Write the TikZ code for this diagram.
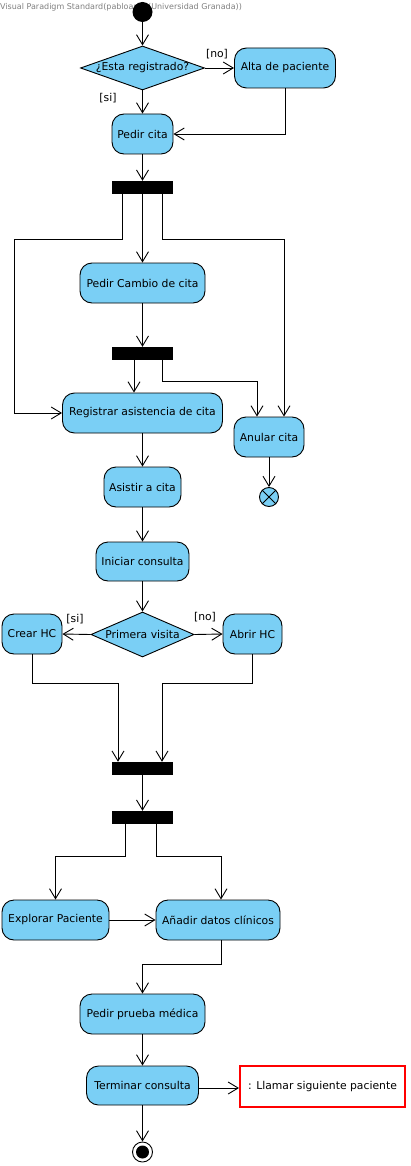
\documentclass[tikz,border=0pt]{standalone}
\usepackage{fontspec}
\setmainfont{DejaVu Sans}
\usetikzlibrary{arrows.meta,shapes.geometric}
\definecolor{actc}{RGB}{122,207,245}
\begin{document}
\begin{tikzpicture}[x=1pt,y=-1pt,
 every node/.style={font=\fontsize{10.8}{12}\selectfont},
 act/.style={draw, fill=actc, rounded corners=12pt, minimum height=40pt, inner sep=0pt, line width=0.9pt},
 dec/.style={draw, fill=actc, diamond, inner sep=0pt, aspect=2.8, line width=0.9pt},
 bar/.style={fill=black, minimum width=61pt, minimum height=13pt, inner sep=0pt},
 flow/.style={draw, line width=0.9pt, -{Straight Barb[length=10pt,width=12pt]}},
 lbl/.style={inner sep=0pt}]
\fill[white] (0,0) rectangle (410,1166);
\useasboundingbox (0,0) rectangle (410,1166);
\node[anchor=west, text=gray, font=\fontsize{8}{9}\selectfont, inner sep=0pt] (title) at (0,7) {Visual Paradigm Standard(pabloariza(Universidad Granada))};
\node[circle, fill=black, minimum size=20pt, inner sep=0pt] (start) at (142.5,12) {};
\node[dec, minimum width=124pt, minimum height=44pt] (reg) at (142.5,68) {¿Esta registrado?};
\node[act, minimum width=101pt] (alta) at (285,68) {Alta de paciente};
\node[act, minimum width=61pt] (pcita) at (142.5,134) {Pedir cita};
\node[bar] (f1) at (142.5,187.5) {};
\node[act, minimum width=125pt] (cambio) at (142.5,283) {Pedir Cambio de cita};
\node[bar] (f2) at (142.5,353.5) {};
\node[act, minimum width=160pt] (regas) at (142.5,413) {Registrar asistencia de cita};
\node[act, minimum width=70pt] (anular) at (269,437) {Anular cita};
\node[circle, draw, fill=actc, minimum size=19pt, inner sep=0pt, line width=0.9pt] (ff) at (269,497) {};
\draw[line width=0.9pt] (ff.north east) -- (ff.south west) (ff.north west) -- (ff.south east);
\node[act, minimum width=77pt] (asistir) at (142.5,487) {Asistir a cita};
\node[act, minimum width=93pt, minimum height=39pt] (iniciar) at (142.5,561.5) {Iniciar consulta};
\node[dec, minimum width=103pt, minimum height=45pt] (prim) at (142.5,634.5) {Primera visita};
\node[act, minimum width=60pt] (crear) at (32,634) {Crear HC};
\node[act, minimum width=59pt] (abrir) at (252.5,634) {Abrir HC};
\node[bar] (j3) at (142.5,768.5) {};
\node[bar] (f4) at (142.5,817.5) {};
\node[act, minimum width=107pt] (explorar) at (55.5,920) {Explorar Paciente};
\node[act, minimum width=124pt] (anadir) at (218,920) {Añadir datos clínicos};
\node[act, minimum width=125pt] (prueba) at (142.5,1014) {Pedir prueba médica};
\node[act, minimum width=112pt, minimum height=39pt] (term) at (142.5,1085.5) {Terminar consulta};
\node[draw=red, line width=2pt, fill=white, minimum width=165pt, minimum height=41pt, inner sep=0pt] (llamar) at (322.5,1086.5) {: Llamar siguiente paciente};
\node[circle, draw, fill=white, minimum size=20pt, inner sep=0pt, line width=0.9pt] (end) at (142.5,1152) {};
\fill (end.center) circle (6.5pt);
% labels
\node[lbl] (lno1) at (217,54) {[no]};
\node[lbl] (lsi1) at (108,98) {[si]};
\node[lbl] (lsi2) at (75,619) {[si]};
\node[lbl] (lno2) at (205,617) {[no]};
% flows
\draw[flow] (start.south) -- (reg.north);
\draw[flow] (reg.east) -- (alta.west);
\draw[flow] (reg.south) -- (pcita.north);
\draw[flow] (alta.south) |- (pcita.east);
\draw[flow] (pcita.south) -- (f1.north);
\draw[flow] ([xshift=-20.5pt]f1.south) -- (122,239) -- (14,239) |- (regas.west);
\draw[flow] (f1.south) -- (cambio.north);
\draw[flow] ([xshift=19.5pt]f1.south) -- (162,239) -| ([xshift=15pt]anular.north);
\draw[flow] (cambio.south) -- (f2.north);
\draw[flow] ([xshift=-8.5pt]f2.south) -- ([xshift=-8.5pt]regas.north);
\draw[flow] ([xshift=19.5pt]f2.south) -- (162,381) -| ([xshift=-12pt]anular.north);
\draw[flow] (anular.south) -- (ff.north);
\draw[flow] (regas.south) -- (asistir.north);
\draw[flow] (asistir.south) -- (iniciar.north);
\draw[flow] (iniciar.south) -- (prim.north);
\draw[flow] (prim.west) -- (crear.east);
\draw[flow] (prim.east) -- (abrir.west);
\draw[flow] (crear.south) -- (32,683) -| ([xshift=-24.5pt]j3.north);
\draw[flow] (abrir.south) -- (252.5,683) -| ([xshift=19.5pt]j3.north);
\draw[flow] (j3.south) -- (f4.north);
\draw[flow] ([xshift=-17.5pt]f4.south) -- (125,856) -| (explorar.north);
\draw[flow] ([xshift=13.5pt]f4.south) -- (156,856) -| ([xshift=3pt]anadir.north);
\draw[flow] (explorar.east) -- (anadir.west);
\draw[flow] ([xshift=3pt]anadir.south) -- (221,964) -| (prueba.north);
\draw[flow] (prueba.south) -- (term.north);
\draw[flow] ([yshift=-2.5pt]term.east) -- ([yshift=-2.5pt]term.east -| llamar.west);
\draw[flow] (term.south) -- (end.north);
\end{tikzpicture}
\end{document}
